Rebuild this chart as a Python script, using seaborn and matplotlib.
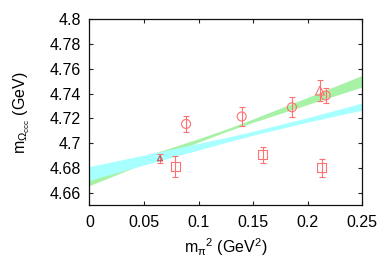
import numpy as np
import pandas as pd
import seaborn as sns
import matplotlib.pyplot as plt

# -------------------------
# 1. Data
# -------------------------
circ_x = [0.0886, 0.1396, 0.1856, 0.2165]
circ_y = [4.7155, 4.7215, 4.7290, 4.7385]
circ_e = [0.0067, 0.0075, 0.0080, 0.0060]

sq_x = [0.0785, 0.1590, 0.2128]
sq_y = [4.6810, 4.6904, 4.6800]
sq_e = [0.0084, 0.0065, 0.0074]

tri_x = [0.2113]
tri_y = [4.7425]
tri_e = [0.0084]

tri_small_x = [0.0647]
tri_small_y = [4.6878]
tri_small_e = [0.0038]

# fit bands: lower / upper edges at these x positions
band_x = [0.0, 0.05, 0.10, 0.125, 0.15, 0.20, 0.25]
green_lo = [4.6656, 4.6834, 4.7008, 4.7092, 4.7168, 4.7312, 4.7454]
green_hi = [4.6750, 4.6892, 4.7036, 4.7112, 4.7196, 4.7370, 4.7548]
cyan_lo = [4.6700, 4.6823, 4.6945, 4.7005, 4.7064, 4.7170, 4.7267]
cyan_hi = [4.6810, 4.6903, 4.6998, 4.7045, 4.7096, 4.7206, 4.7325]

# -------------------------
# 2. Style
# -------------------------
sns.set_theme(style="ticks")
plt.rcParams['font.family'] = ['Liberation Sans', 'DejaVu Sans']
plt.rcParams['mathtext.fontset'] = 'custom'
plt.rcParams['mathtext.rm'] = 'Liberation Sans'
plt.rcParams['mathtext.it'] = 'Liberation Sans'
plt.rcParams['mathtext.sf'] = 'Liberation Sans'

fig = plt.figure(figsize=(3.92, 2.74), dpi=100)
ax = fig.add_axes([0.228, 0.252, 0.696, 0.677])

# -------------------------
# 3. Bands and points
# -------------------------
ax.fill_between(band_x, green_lo, green_hi, color="#a8f2a8", lw=0, zorder=1)
ax.fill_between(band_x, cyan_lo, cyan_hi, color="#a8ffff", lw=0, zorder=2)

red = "#ff7070"
pts = pd.DataFrame({
    "x": circ_x + sq_x + tri_x,
    "y": circ_y + sq_y + tri_y,
    "kind": ["c"] * len(circ_x) + ["s"] * len(sq_x) + ["t"] * len(tri_x),
})
ax.errorbar(circ_x + sq_x + tri_x + tri_small_x,
            circ_y + sq_y + tri_y + tri_small_y,
            yerr=circ_e + sq_e + tri_e + tri_small_e,
            fmt="none", ecolor=red, elinewidth=0.8, capsize=2.2, capthick=0.8, zorder=3)
sns.scatterplot(data=pts, x="x", y="y", style="kind",
                markers={"c": "o", "s": "s", "t": "^"}, s=42,
                facecolor="none", edgecolor=red, linewidth=0.8,
                legend=False, ax=ax, zorder=4)
ax.scatter(tri_small_x, tri_small_y, marker="^", s=14, facecolor="none",
           edgecolor="#c05050", linewidth=0.8, zorder=4)

# -------------------------
# 4. Axes
# -------------------------
ax.set_xlim(0, 0.25)
ax.set_ylim(4.65, 4.8)
ax.set_xticks([0, 0.05, 0.1, 0.15, 0.2, 0.25])
ax.set_xticklabels(["0", "0.05", "0.1", "0.15", "0.2", "0.25"])
ax.set_yticks([4.66, 4.68, 4.7, 4.72, 4.74, 4.76, 4.78, 4.8])
ax.set_yticklabels(["4.66", "4.68", "4.7", "4.72", "4.74", "4.76", "4.78", "4.8"])
ax.tick_params(direction="in", length=3, width=0.8, top=True, right=True,
               labelsize=11.5, colors="#222222", labelcolor="black")
ax.tick_params(axis="x", pad=7)
ax.tick_params(axis="y", pad=6)
for sp in ax.spines.values():
    sp.set_linewidth(0.9)
    sp.set_color("#111111")
    sp.set_visible(True)

ax.set_xlabel(r"m$_{\pi}$$^{2}$ (GeV$^{2}$)", fontsize=11.5, labelpad=5, color="black")
ax.set_ylabel(r"m$_{\Omega_{\mathrm{ccc}}}$ (GeV)", fontsize=11.5, labelpad=13, color="black")

plt.savefig("out.png", dpi=100)
